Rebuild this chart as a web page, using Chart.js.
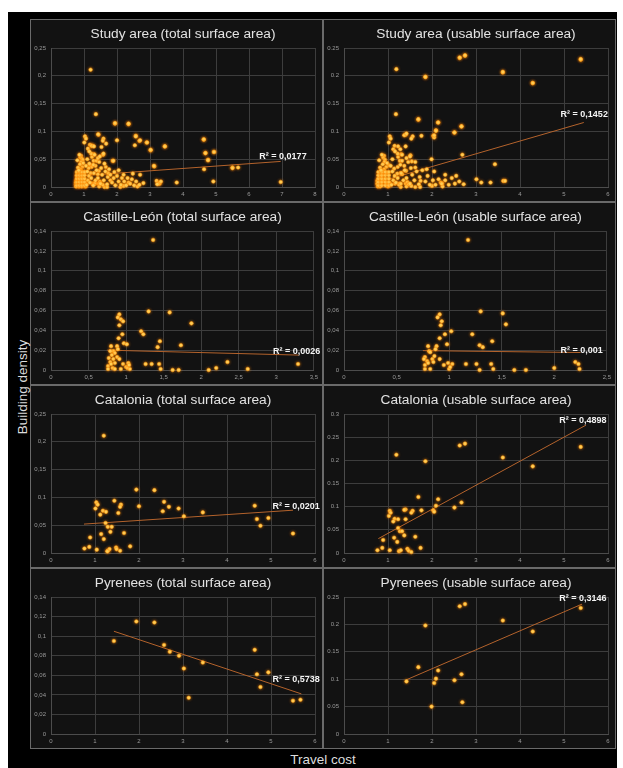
<!DOCTYPE html>
<html>
<head>
<meta charset="utf-8">
<script src="https://cdn.jsdelivr.net/npm/chart.js@4.4.1/dist/chart.umd.min.js"></script>
<style>
    body { margin: 0; background: #fff; width: 623px; height: 768px; overflow: hidden; position: relative; font-family: "Liberation Sans", Arial, sans-serif; }
    #bg { position: absolute; left: 8px; top: 12px; width: 609px; height: 756px; background: #000; }
    .panel { position: absolute; box-sizing: border-box; border: 1px solid #6a6a6a; background: #121212; }
    .panel canvas { display: block; }
    .axis-label { position: absolute; color: #ddd; font-size: 13.5px; white-space: nowrap; transform: translate(-50%, -50%); }
    #ylab { left: 22px; top: 387px; transform: translate(-50%, -50%) rotate(-90deg); }
    #xlab { left: 323px; top: 759px; }
</style>
</head>
<body>
<div id="bg"></div>
<div id="panels"></div>
<div class="axis-label" id="ylab">Building density</div>
<div class="axis-label" id="xlab">Travel cost</div>
<script>
// tick labels
const xTicks8 = ['0', '1', '2', '3', '4', '5', '6', '7', '8'];
const xTicks6 = ['0', '1', '2', '3', '4', '5', '6'];
const xTicks35 = ['0', '0,5', '1', '1,5', '2', '2,5', '3', '3,5'];
const xTicks25 = ['0', '0,5', '1', '1,5', '2', '2,5'];
const yTicks025 = ['0', '0,05', '0,1', '0,15', '0,2', '0,25'];
const yTicks03 = ['0', '0,05', '0,1', '0,15', '0,2', '0,25', '0,3'];
const yTicks014 = ['0', '0,02', '0,04', '0,06', '0,08', '0,1', '0,12', '0,14'];

// [travel cost, building density]
const castilleTotal = [
    [1.36, 0.131], [1.30, 0.059], [1.58, 0.058], [1.87, 0.047], [1.20, 0.039], [1.23, 0.036], [1.45, 0.029],
    [1.73, 0.025], [1.42, 0.023], [1.26, 0.006], [1.34, 0.006], [1.44, 0.006], [1.46, 0.001], [1.62, 0.000],
    [1.70, 0.000], [2.10, 0.000], [2.20, 0.002], [2.35, 0.008], [2.62, 0.001], [3.29, 0.006],
    [0.91, 0.056], [0.89, 0.053], [0.93, 0.051], [0.96, 0.049], [0.91, 0.045], [0.95, 0.036], [0.90, 0.032],
    [0.97, 0.027], [1.01, 0.026], [0.80, 0.024], [0.88, 0.024], [0.89, 0.021], [0.83, 0.019], [0.79, 0.019],
    [0.85, 0.017], [0.81, 0.015], [0.88, 0.013], [0.77, 0.012], [0.83, 0.011], [0.91, 0.011], [0.79, 0.008],
    [0.85, 0.007], [0.96, 0.006], [1.03, 0.007], [0.76, 0.004], [0.82, 0.002], [0.85, 0.001], [1.00, 0.003],
    [1.02, 0.002], [0.76, 0.001], [0.93, 0.001], [1.05, 0.001], [1.04, 0.005], [0.80, 0.006]
];
const castilleUsable = [
    [1.18, 0.131], [1.30, 0.059], [1.51, 0.057], [1.54, 0.046], [1.22, 0.036], [1.41, 0.029], [1.29, 0.025],
    [1.32, 0.023], [1.16, 0.006], [1.26, 0.006], [1.40, 0.006], [1.29, 0.000], [1.42, 0.001], [1.62, 0.000],
    [1.73, 0.000], [2.00, 0.002], [2.20, 0.008], [2.23, 0.006], [2.24, 0.001],
    [0.91, 0.056], [0.89, 0.053], [0.93, 0.049], [0.92, 0.045], [1.02, 0.039], [0.96, 0.036], [0.91, 0.032],
    [0.98, 0.026], [0.80, 0.024], [0.88, 0.024], [0.87, 0.021], [0.81, 0.019], [0.82, 0.018], [0.77, 0.013],
    [0.84, 0.011], [0.91, 0.011], [0.79, 0.009], [0.85, 0.008], [0.95, 0.005], [1.03, 0.006], [0.99, 0.007],
    [0.77, 0.001], [0.82, 0.001], [0.77, 0.005], [1.00, 0.001], [1.01, 0.003], [0.80, 0.007], [0.76, 0.011],
    [0.86, 0.014]
];
const cataloniaTotal = [
    [1.20, 0.211], [1.94, 0.114], [2.35, 0.113], [1.44, 0.094], [1.03, 0.091], [1.06, 0.087], [1.59, 0.087],
    [1.57, 0.083], [2.00, 0.084], [2.57, 0.092], [2.68, 0.083], [2.54, 0.075], [2.90, 0.080], [3.02, 0.066],
    [3.45, 0.073], [4.63, 0.085], [4.68, 0.061], [4.76, 0.049], [4.94, 0.063], [5.50, 0.035], [1.01, 0.080],
    [1.18, 0.076], [1.25, 0.074], [1.12, 0.069], [1.53, 0.072], [1.24, 0.054], [1.29, 0.047], [1.38, 0.047],
    [1.35, 0.038], [1.66, 0.036], [1.14, 0.034], [0.89, 0.028], [1.20, 0.025], [1.80, 0.012], [0.87, 0.011],
    [0.76, 0.008], [1.04, 0.006], [1.29, 0.004], [1.33, 0.007], [1.48, 0.010], [1.49, 0.007], [1.57, 0.004],
    [1.28, 0.003]
];
const cataloniaUsable = [
    [1.19, 0.212], [1.85, 0.198], [2.63, 0.232], [2.75, 0.236], [3.61, 0.206], [4.29, 0.187], [5.38, 0.229],
    [1.69, 0.121], [2.14, 0.116], [2.67, 0.109], [2.51, 0.098], [2.09, 0.102], [2.03, 0.092], [2.05, 0.089],
    [1.76, 0.092], [1.56, 0.091], [1.53, 0.087], [1.40, 0.094], [1.37, 0.093], [1.04, 0.091], [1.06, 0.087],
    [1.02, 0.080], [1.15, 0.074], [1.23, 0.073], [1.40, 0.073], [1.12, 0.068], [1.23, 0.054], [1.27, 0.047],
    [1.32, 0.047], [1.37, 0.038], [1.62, 0.035], [1.14, 0.033], [1.21, 0.024], [0.89, 0.028], [0.87, 0.011],
    [1.74, 0.011], [0.76, 0.006], [1.04, 0.006], [1.25, 0.004], [1.29, 0.006], [1.44, 0.009], [1.47, 0.005],
    [1.53, 0.002]
];
const pyreneesTotal = [
    [1.43, 0.095], [1.94, 0.115], [2.35, 0.114], [2.57, 0.091], [2.70, 0.084], [2.91, 0.080], [3.02, 0.067],
    [3.13, 0.037], [3.45, 0.073], [4.63, 0.086], [4.68, 0.061], [4.76, 0.048], [4.94, 0.063], [5.50, 0.034],
    [5.67, 0.035]
];
const pyreneesUsable = [
    [1.42, 0.096], [1.69, 0.122], [1.85, 0.198], [1.99, 0.050], [2.05, 0.093], [2.09, 0.101], [2.14, 0.116],
    [2.51, 0.098], [2.63, 0.233], [2.75, 0.237], [2.67, 0.109], [2.69, 0.058], [3.61, 0.207], [4.29, 0.187],
    [5.38, 0.230]
];
// rest of the study area, not in the three regional panels
const otherTotal = [
    [0.78, 0.003], [0.78, 0.009], [0.78, 0.015], [0.78, 0.021], [0.78, 0.027], [0.86, 0.003], [0.86, 0.009],
    [0.86, 0.015], [0.86, 0.021], [0.86, 0.027], [0.94, 0.003], [0.94, 0.009], [0.94, 0.015], [0.94, 0.021],
    [0.94, 0.027], [1.02, 0.003], [1.02, 0.009], [1.02, 0.015], [1.02, 0.021], [1.02, 0.027],
    [0.82, 0.035], [0.88, 0.041], [0.80, 0.048], [0.86, 0.058], [0.98, 0.043], [0.84, 0.030],
    [1.08, 0.004], [1.12, 0.012], [1.15, 0.020], [1.10, 0.028], [1.18, 0.008], [1.22, 0.016], [1.30, 0.025],
    [1.28, 0.040], [1.35, 0.012], [1.38, 0.030], [1.42, 0.016], [1.46, 0.045], [1.50, 0.006], [1.52, 0.034],
    [1.55, 0.022], [1.60, 0.012], [1.62, 0.042], [1.65, 0.028], [1.70, 0.005], [1.72, 0.018], [1.76, 0.032],
    [1.80, 0.022], [1.10, 0.050], [1.22, 0.060], [1.32, 0.058], [1.16, 0.064], [1.42, 0.052], [1.48, 0.055],
    [1.59, 0.060], [1.23, 0.074], [1.30, 0.073], [1.67, 0.078], [1.16, 0.042], [1.06, 0.038],
    [1.85, 0.008], [1.90, 0.016], [1.95, 0.003], [2.00, 0.020], [2.05, 0.010], [2.12, 0.004], [2.15, 0.016],
    [2.22, 0.010], [2.28, 0.003], [2.32, 0.016], [2.40, 0.006], [2.45, 0.014], [2.52, 0.003], [2.58, 0.010],
    [2.68, 0.004], [2.80, 0.007], [1.92, 0.027], [2.20, 0.022], [2.48, 0.024], [2.70, 0.022], [1.89, 0.047],
    [2.05, 0.030], [3.12, 0.038], [3.20, 0.011], [3.28, 0.007], [3.33, 0.010], [3.22, 0.005], [3.81, 0.008],
    [4.64, 0.032], [4.92, 0.010], [6.96, 0.009]
];
const otherUsable = [
    [0.78, 0.003], [0.78, 0.009], [0.78, 0.015], [0.78, 0.021], [0.78, 0.027], [0.86, 0.003], [0.86, 0.009],
    [0.86, 0.015], [0.86, 0.021], [0.86, 0.027], [0.94, 0.003], [0.94, 0.009], [0.94, 0.015], [0.94, 0.021],
    [0.94, 0.027], [1.02, 0.003], [1.02, 0.009], [1.02, 0.015], [1.02, 0.021], [1.02, 0.027],
    [0.82, 0.035], [0.88, 0.041], [0.80, 0.048], [0.86, 0.058], [0.98, 0.043], [0.84, 0.030],
    [1.08, 0.004], [1.12, 0.012], [1.15, 0.020], [1.10, 0.028], [1.18, 0.008], [1.22, 0.016], [1.30, 0.025],
    [1.28, 0.040], [1.35, 0.012], [1.38, 0.030], [1.42, 0.016], [1.46, 0.045], [1.50, 0.006], [1.52, 0.034],
    [1.55, 0.022], [1.60, 0.012], [1.62, 0.045], [1.65, 0.028], [1.70, 0.005], [1.72, 0.018], [1.78, 0.030],
    [1.10, 0.050], [1.22, 0.060], [1.32, 0.058], [1.16, 0.064], [1.42, 0.052], [1.50, 0.055], [1.06, 0.038],
    [1.28, 0.068], [1.85, 0.010], [1.90, 0.020], [1.95, 0.004], [2.02, 0.012], [2.08, 0.004], [2.15, 0.014],
    [2.22, 0.006], [2.30, 0.012], [2.38, 0.004], [2.45, 0.016], [2.52, 0.006], [2.62, 0.010], [2.72, 0.005],
    [1.88, 0.032], [2.05, 0.028], [2.30, 0.022], [2.55, 0.020], [3.01, 0.014], [3.12, 0.008], [3.33, 0.008],
    [3.43, 0.041], [3.62, 0.011], [3.66, 0.011]
];

// linear trend lines, ends
const studyTotalTrend = [[0.75, 0.0195], [6.96, 0.046]];
const studyUsableTrend = [[0.75, 0.008], [5.45, 0.116]];
const castilleTotalTrend = [[0.75, 0.020], [3.30, 0.015]];
const castilleUsableTrend = [[0.75, 0.0195], [2.25, 0.0176]];
const cataloniaTotalTrend = [[0.75, 0.052], [5.50, 0.077]];
const cataloniaUsableTrend = [[0.78, 0.031], [5.50, 0.276]];
const pyreneesTotalTrend = [[1.43, 0.105], [5.69, 0.041]];
const pyreneesUsableTrend = [[1.42, 0.099], [5.41, 0.237]];

const panels = [
    { title: 'Study area (total surface area)', pts: [...castilleTotal, ...cataloniaTotal, ...pyreneesTotal, ...otherTotal],
      trend: studyTotalTrend, r2: 'R² = 0,0177', r2At: [7.03, 0.054], xStep: 1, xLabels: xTicks8, yStep: 0.05, yLabels: yTicks025, sep: ',' },
    { title: 'Study area (usable surface area)', pts: [...castilleUsable, ...cataloniaUsable, ...pyreneesUsable, ...otherUsable],
      trend: studyUsableTrend, r2: 'R² = 0,1452', r2At: [5.46, 0.130], xStep: 1, xLabels: xTicks6, yStep: 0.05, yLabels: yTicks025, sep: '.' },
    { title: 'Castille-León (total surface area)', pts: castilleTotal,
      trend: castilleTotalTrend, r2: 'R² = 0,0026', r2At: [3.27, 0.019], xStep: 0.5, xLabels: xTicks35, yStep: 0.02, yLabels: yTicks014, sep: ',' },
    { title: 'Castille-León (usable surface area)', pts: castilleUsable,
      trend: castilleUsableTrend, r2: 'R² = 0,001', r2At: [2.26, 0.020], xStep: 0.5, xLabels: xTicks25, yStep: 0.02, yLabels: yTicks014, sep: ',' },
    { title: 'Catalonia (total surface area)', pts: cataloniaTotal,
      trend: cataloniaTotalTrend, r2: 'R² = 0,0201', r2At: [5.57, 0.083], xStep: 1, xLabels: xTicks6, yStep: 0.05, yLabels: yTicks025, sep: ',' },
    { title: 'Catalonia (usable surface area)', pts: cataloniaUsable,
      trend: cataloniaUsableTrend, r2: 'R² = 0,4898', r2At: [5.43, 0.287], xStep: 1, xLabels: xTicks6, yStep: 0.05, yLabels: yTicks03, sep: '.' },
    { title: 'Pyrenees (total surface area)', pts: pyreneesTotal,
      trend: pyreneesTotalTrend, r2: 'R² = 0,5738', r2At: [5.57, 0.056], xStep: 1, xLabels: xTicks6, yStep: 0.02, yLabels: yTicks014, sep: ',' },
    { title: 'Pyrenees (usable surface area)', pts: pyreneesUsable,
      trend: pyreneesUsableTrend, r2: 'R² = 0,3146', r2At: [5.43, 0.248], xStep: 1, xLabels: xTicks6, yStep: 0.05, yLabels: yTicks025, sep: '.' }
];

const colX = [30, 323];
const rowY = [19, 202, 385, 568];
const rowH = [183, 183, 183, 181];
const FONT = '"Liberation Sans", Arial, sans-serif';
Chart.defaults.font.family = FONT;

// title + R² text
const panelText = {
    id: 'panelText',
    afterDraw(chart, args, opts) {
        const { ctx, chartArea, scales } = chart;
        ctx.save();
        ctx.fillStyle = '#e2e2e2';
        ctx.font = '13.7px ' + FONT;
        ctx.textAlign = 'center';
        ctx.textBaseline = 'middle';
        ctx.fillText(opts.title, (chartArea.left + chartArea.right) / 2, 14);
        ctx.fillStyle = '#f4f4f4';
        ctx.font = 'bold 9px ' + FONT;
        ctx.fillText(opts.r2, scales.x.getPixelForValue(opts.r2At[0]), scales.y.getPixelForValue(opts.r2At[1]));
        ctx.restore();
    }
};

// soft orange glow round the points
const glow = {
    id: 'glow',
    beforeDatasetDraw(chart, args) {
        if (args.index !== 0) return;
        chart.ctx.save();
        chart.ctx.shadowColor = 'rgba(255, 140, 0, 0.8)';
        chart.ctx.shadowBlur = 3;
    },
    afterDatasetDraw(chart, args) {
        if (args.index !== 0) return;
        chart.ctx.restore();
    }
};

function axis(step, labels, sep, isX) {
    return {
        type: 'linear',
        min: 0,
        max: step * (labels.length - 1),
        afterBuildTicks: (scale) => {
            scale.ticks = labels.map((l, i) => ({ value: i * step }));
        },
        afterFit: (scale) => {
            if (isX) scale.height = 14; else scale.width = 20;
        },
        ticks: {
            color: '#9a9a9a',
            font: { size: 6 },
            padding: isX ? 4 : 5,
            maxRotation: 0,
            autoSkip: false,
            callback: (v, i) => labels[i].replace(',', sep)
        },
        grid: { color: '#3d3d3d', lineWidth: 1, drawTicks: false },
        border: { display: true, color: '#4c4c4c' }
    };
}

const holder = document.getElementById('panels');
panels.forEach((p, i) => {
    const col = i % 2, row = Math.floor(i / 2);
    const div = document.createElement('div');
    div.className = 'panel';
    div.style.left = colX[col] + 'px';
    div.style.top = rowY[row] + 'px';
    div.style.width = '293px';
    div.style.height = rowH[row] + 'px';
    const canvas = document.createElement('canvas');
    canvas.width = 291;
    canvas.height = rowH[row] - 2;
    div.appendChild(canvas);
    holder.appendChild(div);

    new Chart(canvas.getContext('2d'), {
        type: 'scatter',
        data: {
            datasets: [{
                data: p.pts.map(d => ({ x: d[0], y: d[1] })),
                pointRadius: 1.8,
                pointBackgroundColor: '#ffd862',
                pointBorderColor: 'rgba(255, 150, 20, 0.7)',
                pointBorderWidth: 0.7,
                clip: 6
            }, {
                type: 'line',
                data: p.trend.map(d => ({ x: d[0], y: d[1] })),
                borderColor: '#b4632c',
                borderWidth: 1,
                pointRadius: 0,
                clip: 6
            }]
        },
        options: {
            responsive: false,
            animation: false,
            layout: { padding: { top: 28, right: 7, left: 0, bottom: 0 } },
            plugins: {
                legend: { display: false },
                tooltip: { enabled: false },
                panelText: { title: p.title, r2: p.r2, r2At: p.r2At }
            },
            scales: {
                x: axis(p.xStep, p.xLabels, p.sep, true),
                y: axis(p.yStep, p.yLabels, p.sep, false)
            }
        },
        plugins: [panelText, glow]
    });
});
</script>
</body>
</html>
